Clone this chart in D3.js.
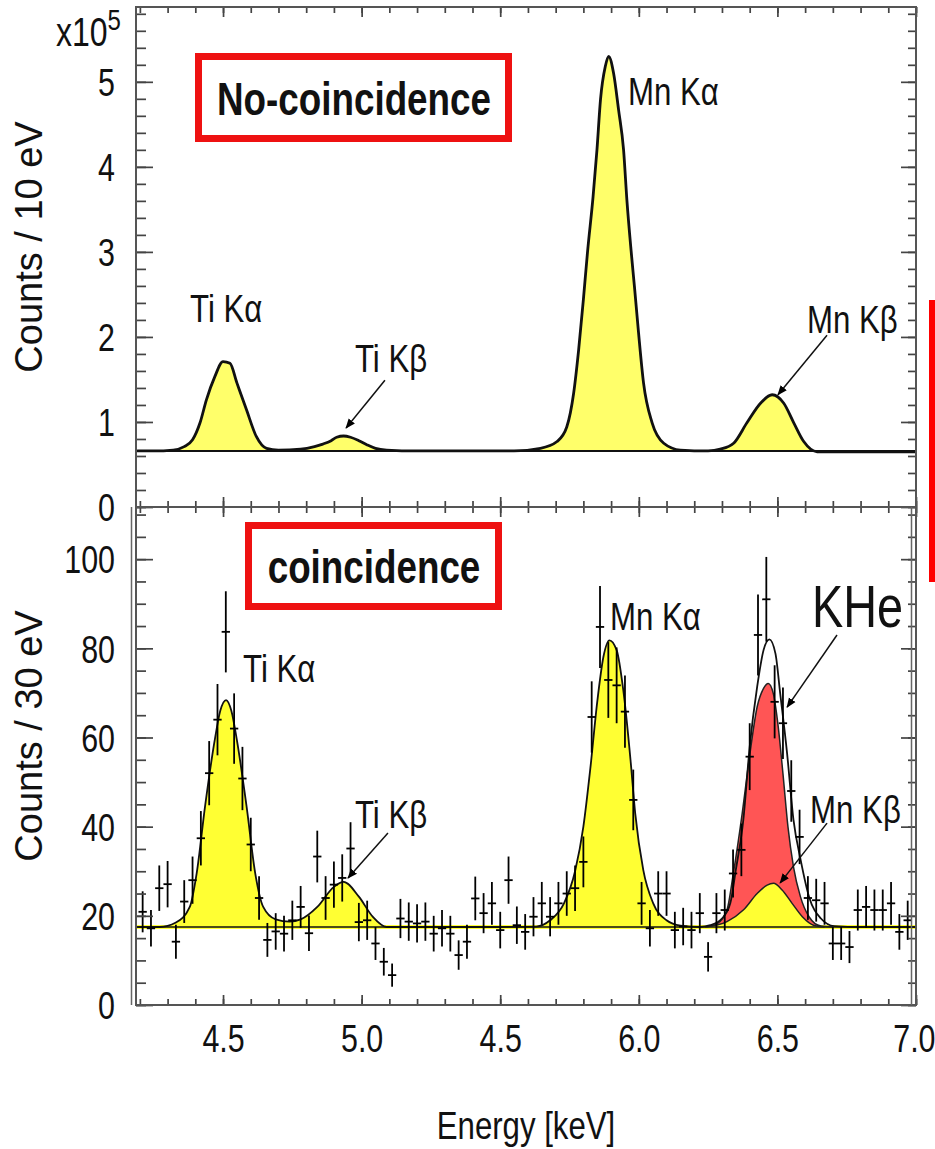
<!DOCTYPE html>
<html>
<head>
<meta charset="utf-8">
<script src="https://cdn.jsdelivr.net/npm/d3@7"></script>
<style>
  body { margin: 0; background: #fff; }
  svg { display: block; }
</style>
</head>
<body>
<div id="chart"></div>
<script>
// ---- data ----
// x axis (energy, keV) ; printed tick labels kept as in the figure
var xTickValues = [4.5, 5.0, 5.5, 6.0, 6.5, 7.0];
var xTickLabels = ["4.5", "5.0", "4.5", "6.0", "6.5", "7.0"];

// top panel: no-coincidence spectrum, counts / 10 eV in units of 1e5
var topYTicks = [0, 1, 2, 3, 4, 5];
var topBackground = 0.66;
var topEnergy = [4.19, 4.25, 4.32, 4.36, 4.39, 4.417, 4.44, 4.47, 4.50, 4.525, 4.55, 4.585, 4.62, 4.657, 4.70,
  4.78, 4.83, 4.86, 4.89, 4.91, 4.935, 4.96, 4.99, 5.02, 5.05, 5.09, 5.2, 5.4, 5.55, 5.645, 5.705, 5.74, 5.765,
  5.783, 5.80, 5.815, 5.835, 5.849, 5.862, 5.879, 5.891, 5.909, 5.927, 5.945, 5.957, 5.972, 5.984, 5.999, 6.017,
  6.048, 6.09, 6.15, 6.25, 6.294, 6.342, 6.39, 6.439, 6.481, 6.523, 6.559, 6.595, 6.643, 6.72, 6.85, 7.0];
var topCounts = [0.66, 0.66, 0.67, 0.71, 0.79, 0.99, 1.26, 1.53, 1.71, 1.69, 1.46, 1.14, 0.83, 0.69, 0.67,
  0.68, 0.71, 0.74, 0.78, 0.82, 0.835, 0.82, 0.78, 0.73, 0.69, 0.67, 0.66, 0.66, 0.66, 0.69, 0.77, 0.94, 1.34,
  1.85, 2.44, 3.0, 3.65, 4.2, 4.8, 5.18, 5.30, 5.10, 4.67, 4.2, 3.61, 3.02, 2.6, 2.05, 1.46,
  0.99, 0.75, 0.67, 0.66, 0.68, 0.75, 0.99, 1.22, 1.32, 1.22, 0.99, 0.77, 0.65, 0.65, 0.65, 0.65];

// bottom panel: coincidence spectrum, counts / 30 eV
var botYTicks = [0, 20, 40, 60, 80, 100];
var botBackground = 17.5;
var fitEnergy = [4.19, 4.27, 4.33, 4.38, 4.405, 4.435, 4.47, 4.49, 4.511, 4.53, 4.55, 4.585, 4.616, 4.645, 4.69,
  4.74, 4.78, 4.84, 4.90, 4.935, 4.99, 5.04, 5.09, 5.2, 5.4, 5.5, 5.63, 5.68, 5.73, 5.77, 5.80, 5.825, 5.85,
  5.872, 5.894, 5.92, 5.944, 5.97, 5.987, 6.016, 6.052, 6.10, 6.15, 6.22, 6.258, 6.30, 6.33, 6.35, 6.377, 6.40,
  6.427, 6.45, 6.471, 6.493, 6.51, 6.535, 6.558, 6.584, 6.614, 6.657, 6.705, 6.8, 7.0];
var fitTotal = [17.5, 17.5, 18.5, 22, 29.6, 44.5, 59.4, 66, 68.4, 66, 59.4, 44.5, 29.6, 22, 19.2,
  18.7, 19.2, 22, 26.5, 27.6, 24.3, 19.8, 17.5, 17.5, 17.5, 17.5, 17.6, 19, 22.8, 30, 40, 53, 68,
  78, 81.8, 79.6, 70.6, 55, 43, 30.3, 22.8, 19, 17.8, 17.5, 17.9, 19.4, 22.8, 30.3, 41.5, 57.9,
  71.4, 79.6, 82, 78.8, 69.9, 56.4, 41.5, 32.5, 24.3, 19.4, 17.7, 17.5, 17.5];
// KHe component (red) and Mn Kb component (yellow), each on top of the background
var kheEnergy = [6.24, 6.282, 6.318, 6.341, 6.373, 6.40, 6.427, 6.45, 6.467, 6.485, 6.503, 6.52, 6.538, 6.558, 6.583, 6.614, 6.657, 6.70];
var kheCounts = [17.5, 18.2, 21.3, 29.5, 43, 56, 66.9, 71, 72.1, 69.9, 62.4, 51.9, 40, 31, 24.3, 19.8, 17.7, 17.5];
var mnKbEnergy = [6.24, 6.318, 6.377, 6.427, 6.463, 6.486, 6.517, 6.553, 6.59, 6.63, 6.67];
var mnKbCounts = [17.5, 18.7, 21.3, 25, 26.9, 27.3, 25.8, 22.8, 19.8, 17.9, 17.5];

// measured points (30 eV bins)
var pointEnergy = [4.21, 4.24, 4.27, 4.30, 4.33, 4.36, 4.39, 4.42, 4.45, 4.48, 4.51, 4.54, 4.57, 4.60, 4.63, 4.66,
  4.69, 4.72, 4.75, 4.78, 4.81, 4.84, 4.87, 4.90, 4.93, 4.96, 4.99, 5.02, 5.05, 5.08, 5.11, 5.14, 5.17, 5.20,
  5.23, 5.26, 5.29, 5.32, 5.35, 5.38, 5.41, 5.44, 5.47, 5.50, 5.53, 5.56, 5.59, 5.62, 5.65, 5.68, 5.71, 5.74,
  5.77, 5.80, 5.83, 5.86, 5.89, 5.92, 5.95, 5.98, 6.01, 6.04, 6.07, 6.10, 6.13, 6.16, 6.19, 6.22, 6.25, 6.28,
  6.31, 6.34, 6.37, 6.40, 6.43, 6.46, 6.49, 6.52, 6.55, 6.58, 6.61, 6.64, 6.67, 6.70, 6.73, 6.76, 6.79, 6.82,
  6.85, 6.88, 6.91, 6.94, 6.97];
var pointCounts = [20.9, 17.2, 26.2, 27.1, 14.2, 23.2, 28, 37.4, 52, 64, 83.7, 62, 50.8, 36, 24, 14.6,
  16.5, 16, 19, 22, 16.1, 33.3, 24, 27, 28.5, 35.1, 18.6, 19, 13.8, 9.7, 6.7, 19.4, 18.7, 18.3,
  18.7, 16, 17.2, 16, 11.2, 14.2, 23.9, 20.6, 22.8, 16.8, 28, 17.9, 16.4, 19.8, 22.8, 19.8, 22.8, 25,
  26.2, 32.1, 64.6, 84.8, 72.9, 71.7, 65.8, 46, 22.8, 17.2, 25, 25, 16.8, 17.6, 16.8, 20.6, 10.8, 20.6,
  21.3, 29.5, 34.8, 55.7, 83, 91, 68, 63.2, 48, 37.7, 24, 23.5, 22.8, 13.8, 13.8, 13, 21.3, 22,
  21.3, 21.3, 22.8, 16.4, 19];
var pointErrors = [4.6, 4.1, 5.1, 5.2, 3.8, 4.8, 5.3, 6.1, 7.2, 8, 9.1, 7.9, 7.1, 6, 4.9, 3.8,
  4.1, 4, 4.4, 4.7, 4, 5.8, 4.9, 5.2, 5.3, 5.9, 4.3, 4.4, 3.7, 3.1, 2.6, 4.4, 4.3, 4.3,
  4.3, 4, 4.1, 4, 3.3, 3.8, 4.9, 4.5, 4.8, 4.1, 5.3, 4.2, 4, 4.4, 4.8, 4.4, 4.8, 5,
  5.1, 5.7, 8, 9.2, 8.5, 8.5, 8.1, 6.8, 4.8, 4.1, 5, 5, 4.1, 4.2, 4.1, 4.5, 3.3, 4.5,
  4.6, 5.4, 5.9, 7.5, 9.1, 9.5, 8.2, 8, 6.9, 6.1, 4.9, 4.8, 4.8, 3.7, 3.7, 3.6, 4.6, 4.7,
  4.6, 4.6, 4.8, 4, 4.4];
var binHalfWidth = 0.015;

// ---- layout ----
var W = 935, H = 1149;
var left = 136, right = 916;
var top1 = 7, mid = 507, bot2 = 1005;
var FONT = "'Liberation Sans', Arial, Helvetica, sans-serif";
var SX = 0.8; // figure text is horizontally narrow

var svg = d3.select("#chart").append("svg")
  .attr("width", W)
  .attr("height", H)
  .style("font-family", FONT);

svg.append("rect").attr("width", W).attr("height", H).attr("fill", "#fff");

var x = d3.scaleLinear().domain([4.186, 7.0]).range([left, right]);
var yTop = d3.scaleLinear().domain([0, 5.88]).range([mid, top1]);
var yBot = d3.scaleLinear().domain([0, 111.7]).range([bot2, mid]);

var defs = svg.append("defs");
defs.append("clipPath").attr("id", "clipTop").append("rect")
  .attr("x", left).attr("y", top1).attr("width", right - left).attr("height", mid - top1);
defs.append("clipPath").attr("id", "clipBot").append("rect")
  .attr("x", left).attr("y", mid).attr("width", right - left).attr("height", bot2 - mid);
defs.append("marker").attr("id", "arrow")
  .attr("viewBox", "0 0 10 10").attr("refX", 9).attr("refY", 5)
  .attr("markerWidth", 10).attr("markerHeight", 10).attr("markerUnits", "userSpaceOnUse")
  .attr("orient", "auto")
  .append("path").attr("d", "M0,1 L10,5 L0,9 z").attr("fill", "#000");

function pairs(a, b) { return a.map(function (d, i) { return [d, b[i]]; }); }

// small helper for the narrow looking text
function label(g, px, py, str, size, weight, anchor, sx) {
  return g.append("text")
    .attr("transform", "translate(" + px + "," + py + ") scale(" + (sx || SX) + ",1)")
    .attr("font-size", size)
    .attr("font-weight", weight || "normal")
    .attr("text-anchor", anchor || "start")
    .attr("fill", "#111")
    .text(str);
}

// ================= top panel =================
var gTop = svg.append("g").attr("clip-path", "url(#clipTop)");
var topData = pairs(topEnergy, topCounts);

gTop.append("path")
  .datum(topData)
  .attr("fill", "#ffff6a")
  .attr("d", d3.area()
    .x(function (d) { return x(d[0]); })
    .y0(yTop(topBackground))
    .y1(function (d) { return yTop(Math.max(d[1], topBackground)); })
    .curve(d3.curveMonotoneX));

gTop.append("line")
  .attr("x1", left).attr("x2", right)
  .attr("y1", yTop(topBackground)).attr("y2", yTop(topBackground))
  .attr("stroke", "#111").attr("stroke-width", 2);

gTop.append("path")
  .datum(topData)
  .attr("fill", "none")
  .attr("stroke", "#111")
  .attr("stroke-width", 2.8)
  .attr("d", d3.line()
    .x(function (d) { return x(d[0]); })
    .y(function (d) { return yTop(d[1]); })
    .curve(d3.curveMonotoneX));

// ================= bottom panel =================
var gBot = svg.append("g").attr("clip-path", "url(#clipBot)");
var fitData = pairs(fitEnergy, fitTotal);
var kheData = pairs(kheEnergy, kheCounts);
var mnKbData = pairs(mnKbEnergy, mnKbCounts);

function botArea() {
  return d3.area()
    .x(function (d) { return x(d[0]); })
    .y0(yBot(botBackground))
    .y1(function (d) { return yBot(d[1]); })
    .curve(d3.curveMonotoneX);
}
function botLine() {
  return d3.line()
    .x(function (d) { return x(d[0]); })
    .y(function (d) { return yBot(d[1]); })
    .curve(d3.curveMonotoneX);
}

// yellow peaks (Ti Ka, Ti Kb, Mn Ka) from the total fit below the KHe region
gBot.append("path")
  .datum(fitData.filter(function (d) { return d[0] <= 6.24; }))
  .attr("fill", "#ffff33")
  .attr("d", botArea());

gBot.append("path").datum(kheData).attr("fill", "#ff5555").attr("d", botArea());
gBot.append("path").datum(mnKbData).attr("fill", "#ffff33").attr("d", botArea());

gBot.append("line")
  .attr("x1", left).attr("x2", right)
  .attr("y1", yBot(botBackground)).attr("y2", yBot(botBackground))
  .attr("stroke", "#ffff33").attr("stroke-width", 4);
gBot.append("line")
  .attr("x1", left).attr("x2", right)
  .attr("y1", yBot(botBackground)).attr("y2", yBot(botBackground))
  .attr("stroke", "#111").attr("stroke-width", 1.4);

gBot.append("path").datum(kheData).attr("fill", "none").attr("stroke", "#222").attr("stroke-width", 1.5).attr("d", botLine());
gBot.append("path").datum(mnKbData).attr("fill", "none").attr("stroke", "#222").attr("stroke-width", 1.5).attr("d", botLine());
gBot.append("path").datum(fitData).attr("fill", "none").attr("stroke", "#111").attr("stroke-width", 1.8).attr("d", botLine());

// data points with error bars
var pts = pointEnergy.map(function (e, i) { return { e: e, v: pointCounts[i], err: pointErrors[i] }; });
var cross = gBot.append("g").attr("stroke", "#000").attr("stroke-width", 1.8)
  .selectAll("g").data(pts).enter().append("g");
cross.append("line")
  .attr("x1", function (d) { return x(d.e); })
  .attr("x2", function (d) { return x(d.e); })
  .attr("y1", function (d) { return yBot(d.v - d.err); })
  .attr("y2", function (d) { return yBot(d.v + d.err); });
cross.append("line")
  .attr("x1", function (d) { return x(d.e - binHalfWidth); })
  .attr("x2", function (d) { return x(d.e + binHalfWidth); })
  .attr("y1", function (d) { return yBot(d.v); })
  .attr("y2", function (d) { return yBot(d.v); });

// ================= axes =================
function styleAxis(g) {
  g.select(".domain").remove();
  g.selectAll(".tick line").attr("stroke", "#444").attr("stroke-width", 1.7);
  g.selectAll(".tick text").attr("font-family", FONT).attr("fill", "#111");
}

function yAxes(scale, major, minor) {
  var gl = svg.append("g").attr("transform", "translate(" + left + ",0)")
    .call(d3.axisLeft(scale).tickValues(major).tickSizeInner(-17).tickSizeOuter(0).tickPadding(21)
      .tickFormat(function (d) { return String(d); }));
  styleAxis(gl);
  gl.selectAll(".tick text")
    .attr("font-size", 38)
    .attr("x", -21 / SX)
    .attr("dy", "0.36em")
    .attr("transform", "scale(" + SX + ",1)");
  var gm = svg.append("g").attr("transform", "translate(" + left + ",0)")
    .call(d3.axisLeft(scale).tickValues(minor).tickSizeInner(-10).tickSizeOuter(0).tickFormat(""));
  styleAxis(gm);
  var gr = svg.append("g").attr("transform", "translate(" + right + ",0)")
    .call(d3.axisRight(scale).tickValues(major).tickSizeInner(-15).tickSizeOuter(0).tickFormat(""));
  styleAxis(gr);
  var grm = svg.append("g").attr("transform", "translate(" + right + ",0)")
    .call(d3.axisRight(scale).tickValues(minor).tickSizeInner(-8).tickSizeOuter(0).tickFormat(""));
  styleAxis(grm);
}

yAxes(yTop, topYTicks, d3.range(0, 5.81, 0.2));
yAxes(yBot, botYTicks, d3.range(0, 111, 5));

var xMinor = d3.range(4.2, 7.001, 0.1);
function xAxis(ypos, dir, withLabels) {
  var maker = dir === "top" ? d3.axisTop : d3.axisBottom;
  var g = svg.append("g").attr("transform", "translate(0," + ypos + ")")
    .call(maker(x).tickValues(xTickValues).tickSizeInner(-10).tickSizeOuter(0).tickPadding(20)
      .tickFormat(function (d, i) { return withLabels ? xTickLabels[i] : ""; }));
  styleAxis(g);
  g.selectAll(".tick text").attr("font-size", 38).attr("transform", "scale(" + SX + ",1)");
  // last label sits against the right edge of the figure
  g.selectAll(".tick text").filter(function (d) { return d === 7.0; })
    .attr("text-anchor", "end").attr("x", 19 / SX);
  var gm = svg.append("g").attr("transform", "translate(0," + ypos + ")")
    .call(maker(x).tickValues(xMinor).tickSizeInner(-6).tickSizeOuter(0).tickFormat(""));
  styleAxis(gm);
}
xAxis(top1, "top", false);
xAxis(mid, "bottom", false);
xAxis(mid, "top", false);
xAxis(bot2, "bottom", true);

// frames
svg.append("rect").attr("x", left).attr("y", top1).attr("width", right - left).attr("height", mid - top1)
  .attr("fill", "none").attr("stroke", "#555").attr("stroke-width", 2);
svg.append("rect").attr("x", left).attr("y", mid).attr("width", right - left).attr("height", bot2 - mid)
  .attr("fill", "none").attr("stroke", "#555").attr("stroke-width", 2);
svg.append("line").attr("x1", left - 4.5).attr("x2", left - 4.5).attr("y1", mid).attr("y2", bot2)
  .attr("stroke", "#666").attr("stroke-width", 1.5);
svg.append("line").attr("x1", right - 4.5).attr("x2", right - 4.5).attr("y1", mid).attr("y2", bot2)
  .attr("stroke", "#666").attr("stroke-width", 1.5);

// ================= titles =================
var xt = label(svg, 56, 46, "x10", 40, "normal", "start");
xt.append("tspan").attr("font-size", 30).attr("dy", -16).text("5");

svg.append("text")
  .attr("transform", "translate(42,247) rotate(-90)")
  .attr("font-size", 38).attr("text-anchor", "middle").attr("fill", "#111")
  .text("Counts / 10 eV");
svg.append("text")
  .attr("transform", "translate(42,736) rotate(-90)")
  .attr("font-size", 38).attr("text-anchor", "middle").attr("fill", "#111")
  .text("Counts / 30 eV");

label(svg, 526, 1139, "Energy [keV]", 39, "normal", "middle");

// boxed panel names
svg.append("rect").attr("x", 198.5).attr("y", 56.5).attr("width", 310).attr("height", 82)
  .attr("fill", "none").attr("stroke", "#ee1111").attr("stroke-width", 7);
label(svg, 354, 115, "No-coincidence", 46, "bold", "middle");
svg.append("rect").attr("x", 248.5).attr("y", 525.5).attr("width", 250).attr("height", 81)
  .attr("fill", "none").attr("stroke", "#ee1111").attr("stroke-width", 7);
label(svg, 374, 583, "coincidence", 46, "bold", "middle");

// peak labels (positions in data units)
var topLabels = [
  { t: "Ti K\u03b1", e: 4.381, v: 2.18 },
  { t: "Ti K\u03b2", e: 4.976, v: 1.59 },
  { t: "Mn K\u03b1", e: 5.961, v: 4.73 },
  { t: "Mn K\u03b2", e: 6.607, v: 2.05 }
];
topLabels.forEach(function (d) { label(svg, x(d.e), yTop(d.v), d.t, 39); });

var botLabels = [
  { t: "Ti K\u03b1", e: 4.572, v: 72.4 },
  { t: "Ti K\u03b2", e: 4.976, v: 39.7 },
  { t: "Mn K\u03b1", e: 5.896, v: 84.1 },
  { t: "Mn K\u03b2", e: 6.618, v: 40.8 }
];
botLabels.forEach(function (d) { label(svg, x(d.e), yBot(d.v), d.t, 39); });
label(svg, x(6.625), yBot(84.8), "KHe", 60, "normal", "start", 0.78);

// arrows
var topArrows = [[5.084, 1.49, 4.944, 0.93], [6.679, 2.02, 6.502, 1.32]];
var botArrows = [[5.095, 38.6, 4.951, 28.5], [6.715, 83, 6.535, 66.8], [6.679, 40.8, 6.51, 27.4]];
topArrows.forEach(function (a) {
  svg.append("line").attr("x1", x(a[0])).attr("y1", yTop(a[1])).attr("x2", x(a[2])).attr("y2", yTop(a[3]))
    .attr("stroke", "#111").attr("stroke-width", 1.5).attr("marker-end", "url(#arrow)");
});
botArrows.forEach(function (a) {
  svg.append("line").attr("x1", x(a[0])).attr("y1", yBot(a[1])).attr("x2", x(a[2])).attr("y2", yBot(a[3]))
    .attr("stroke", "#111").attr("stroke-width", 1.5).attr("marker-end", "url(#arrow)");
});

// red mark at the right edge
svg.append("rect").attr("x", 929).attr("y", 300).attr("width", 6).attr("height", 282).attr("fill", "#ff0000");
</script>
</body>
</html>
